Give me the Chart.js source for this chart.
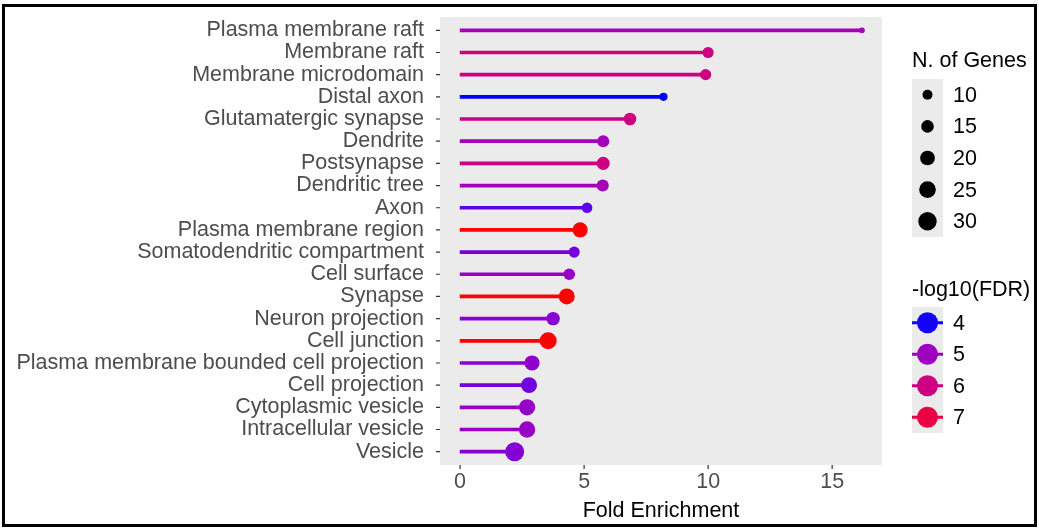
<!DOCTYPE html>
<html>
<head>
<meta charset="utf-8">
<script src="https://cdn.jsdelivr.net/npm/chart.js@4.4.1/dist/chart.umd.min.js"></script>
<style>
  html, body { margin: 0; padding: 0; background: #fff; }
  #wrap { position: relative; width: 1039px; height: 529px; }
  #frame { position: absolute; left: 2px; top: 4px; width: 1035px; height: 523px;
           border: 3px solid #000; box-sizing: border-box; pointer-events: none; }
</style>
</head>
<body>
<div id="wrap">
  <canvas id="grafico-lollipop" width="1039" height="529"></canvas>
  <div id="frame"></div>
</div>
<script>
// GO terms, top to bottom
const categorias = [
  "Plasma membrane raft", "Membrane raft", "Membrane microdomain", "Distal axon",
  "Glutamatergic synapse", "Dendrite", "Postsynapse", "Dendritic tree", "Axon",
  "Plasma membrane region", "Somatodendritic compartment", "Cell surface", "Synapse",
  "Neuron projection", "Cell junction", "Plasma membrane bounded cell projection",
  "Cell projection", "Cytoplasmic vesicle", "Intracellular vesicle", "Vesicle"
];
const foldEnrichment = [16.2, 10.0, 9.9, 8.2, 6.85, 5.77, 5.77, 5.75, 5.12, 4.84,
                        4.6, 4.4, 4.3, 3.75, 3.55, 2.9, 2.78, 2.7, 2.7, 2.2];
const nGenes = [4, 12, 12, 7, 15, 14, 16, 14, 11, 21, 12, 13, 23, 17, 26, 21, 23, 24, 24, 32];
const log10FDR = [5.1, 6.05, 6.05, 3.98, 6.05, 5.1, 6.0, 5.1, 4.3, 7.85,
                  4.5, 4.9, 7.8, 4.7, 7.85, 4.8, 4.45, 4.9, 4.9, 4.65];
const xTicks = [0, 5, 10, 15];
const legendaGenes = [10, 15, 20, 25, 30];
const legendaFDR = [4, 5, 6, 7];

// ---- colour gradient blue -> red in Lab (like ggplot) ----
const lin = c => (c <= 0.04045 ? c / 12.92 : Math.pow((c + 0.055) / 1.055, 2.4));
const gam = c => (c <= 0.0031308 ? 12.92 * c : 1.055 * Math.pow(c, 1 / 2.4) - 0.055);
const WP = [0.95047, 1, 1.08883];
function rgbToLab(rgb) {
  const [R, G, B] = rgb.map(v => lin(v / 255));
  const X = 0.4124 * R + 0.3576 * G + 0.1805 * B;
  const Y = 0.2126 * R + 0.7152 * G + 0.0722 * B;
  const Z = 0.0193 * R + 0.1192 * G + 0.9505 * B;
  const f = t => (t > 0.008856 ? Math.cbrt(t) : 7.787 * t + 16 / 116);
  const fx = f(X / WP[0]), fy = f(Y / WP[1]), fz = f(Z / WP[2]);
  return [116 * fy - 16, 500 * (fx - fy), 200 * (fy - fz)];
}
function labToRgb(lab) {
  const fy = (lab[0] + 16) / 116, fx = fy + lab[1] / 500, fz = fy - lab[2] / 200;
  const fi = t => (t * t * t > 0.008856 ? t * t * t : (t - 16 / 116) / 7.787);
  const X = fi(fx) * WP[0], Y = fi(fy) * WP[1], Z = fi(fz) * WP[2];
  const rgb = [
    3.2406 * X - 1.5372 * Y - 0.4986 * Z,
    -0.9689 * X + 1.8758 * Y + 0.0415 * Z,
    0.0557 * X - 0.2040 * Y + 1.0570 * Z
  ];
  return rgb.map(v => Math.round(255 * Math.min(1, Math.max(0, gam(Math.max(0, v))))));
}
const labLow = rgbToLab([0, 0, 255]);
const labHigh = rgbToLab([255, 0, 0]);
const fdrMin = Math.min(...log10FDR), fdrMax = Math.max(...log10FDR);
function corFDR(v) {
  const t = Math.min(1, Math.max(0, (v - fdrMin) / (fdrMax - fdrMin)));
  const c = labToRgb(labLow.map((l, i) => l + (labHigh[i] - l) * t));
  return "rgb(" + c.join(",") + ")";
}
const raio = n => -0.72 + 1.81 * Math.sqrt(n);

const cores = log10FDR.map(corFDR);
const pontos = foldEnrichment.map((v, i) => ({ x: v, y: i }));

const FONTE = "'Liberation Sans', Arial, sans-serif";
Chart.defaults.font.family = FONTE;
Chart.defaults.font.size = 21.5;

const fundoPainel = {
  id: "fundoPainel",
  beforeDraw(chart) {
    const { ctx, chartArea: a } = chart;
    ctx.save();
    ctx.fillStyle = "#EBEBEB";
    ctx.fillRect(a.left, a.top, a.right - a.left, a.bottom - a.top);
    ctx.restore();
  }
};

// little ggplot tick marks outside the panel
const marcas = {
  id: "marcas",
  afterDraw(chart) {
    const { ctx, chartArea: a, scales } = chart;
    ctx.save();
    ctx.strokeStyle = "#333333";
    ctx.lineWidth = 1.2;
    ctx.beginPath();
    scales.y.ticks.forEach(t => {
      const py = scales.y.getPixelForValue(t.value);
      ctx.moveTo(a.left - 4, py);
      ctx.lineTo(a.left, py);
    });
    scales.x.ticks.forEach(t => {
      const px = scales.x.getPixelForValue(t.value);
      ctx.moveTo(px, a.bottom);
      ctx.lineTo(px, a.bottom + 4);
    });
    ctx.stroke();
    ctx.restore();
  }
};

const legendas = {
  id: "legendas",
  afterDraw(chart) {
    const ctx = chart.ctx;
    const x0 = 912, kw = 31, kh = 31.6;
    ctx.save();
    ctx.font = "21.5px " + FONTE;
    ctx.textBaseline = "middle";
    ctx.textAlign = "left";
    // size legend
    ctx.fillStyle = "#000";
    ctx.fillText("N. of Genes", x0, 61);
    let y0 = 79;
    ctx.fillStyle = "#EBEBEB";
    ctx.fillRect(x0, y0, kw, kh * legendaGenes.length);
    legendaGenes.forEach((n, i) => {
      const cy = y0 + kh * (i + 0.5);
      ctx.fillStyle = "#000";
      ctx.beginPath();
      ctx.arc(x0 + kw / 2, cy, raio(n), 0, Math.PI * 2);
      ctx.fill();
      ctx.fillText(String(n), 953, cy + 1);
    });
    // colour legend
    ctx.fillStyle = "#000";
    ctx.fillText("-log10(FDR)", x0, 290);
    y0 = 307;
    const kh2 = 31.5;
    ctx.fillStyle = "#EBEBEB";
    ctx.fillRect(x0, y0, kw, kh2 * legendaFDR.length);
    legendaFDR.forEach((v, i) => {
      const cy = y0 + kh2 * (i + 0.5);
      const c = corFDR(v);
      ctx.fillStyle = c;
      ctx.fillRect(x0, cy - 1.5, kw, 3);
      ctx.beginPath();
      ctx.arc(x0 + kw / 2, cy, 10.5, 0, Math.PI * 2);
      ctx.fill();
      ctx.fillStyle = "#000";
      ctx.fillText(String(v), 953, cy + 1);
    });
    ctx.restore();
  }
};

new Chart(document.getElementById("grafico-lollipop"), {
  type: "bar",
  plugins: [fundoPainel, marcas, legendas],
  data: {
    datasets: [
      {
        type: "line",
        data: pontos,
        showLine: false,
        pointRadius: nGenes.map(raio),
        pointHoverRadius: nGenes.map(raio),
        pointBackgroundColor: cores,
        pointBorderWidth: 0,
        order: 0,
      },
      {
        type: "bar",
        data: pontos,
        backgroundColor: cores,
        borderWidth: 0,
        barThickness: 3,
        order: 1,
      },
    ],
  },
  options: {
    indexAxis: "y",
    responsive: false,
    animation: false,
    events: [],
    layout: { padding: { top: 17, right: 157, left: 0, bottom: 0 } },
    plugins: {
      legend: { display: false },
      tooltip: { enabled: false },
    },
    scales: {
      x: {
        type: "linear",
        min: -0.81,
        max: 17.01,
        afterBuildTicks: (s) => { s.ticks = xTicks.map(v => ({ value: v })); },
        afterFit: (s) => { s.height = 64; s.paddingLeft = 0; s.paddingRight = 0; },
        grid: { display: false, tickLength: 4 },
        border: { display: false },
        ticks: { color: "#4D4D4D", padding: 0 },
        title: {
          display: true,
          text: "Fold Enrichment",
          color: "#000",
          padding: { top: 0, bottom: 5 },
        },
      },
      y: {
        type: "linear",
        reverse: true,
        offset: false,
        min: -0.6,
        max: categorias.length - 0.4,
        afterBuildTicks: (s) => { s.ticks = categorias.map((c, i) => ({ value: i })); },
        afterFit: (s) => { s.width = 440; s.paddingTop = 0; s.paddingBottom = 0; },
        grid: { display: false, tickLength: 4 },
        border: { display: false },
        ticks: {
          color: "#4D4D4D",
          padding: 12,
          autoSkip: false,
          callback: (v) => categorias[v],
        },
      },
    },
  },
});
</script>
</body>
</html>
